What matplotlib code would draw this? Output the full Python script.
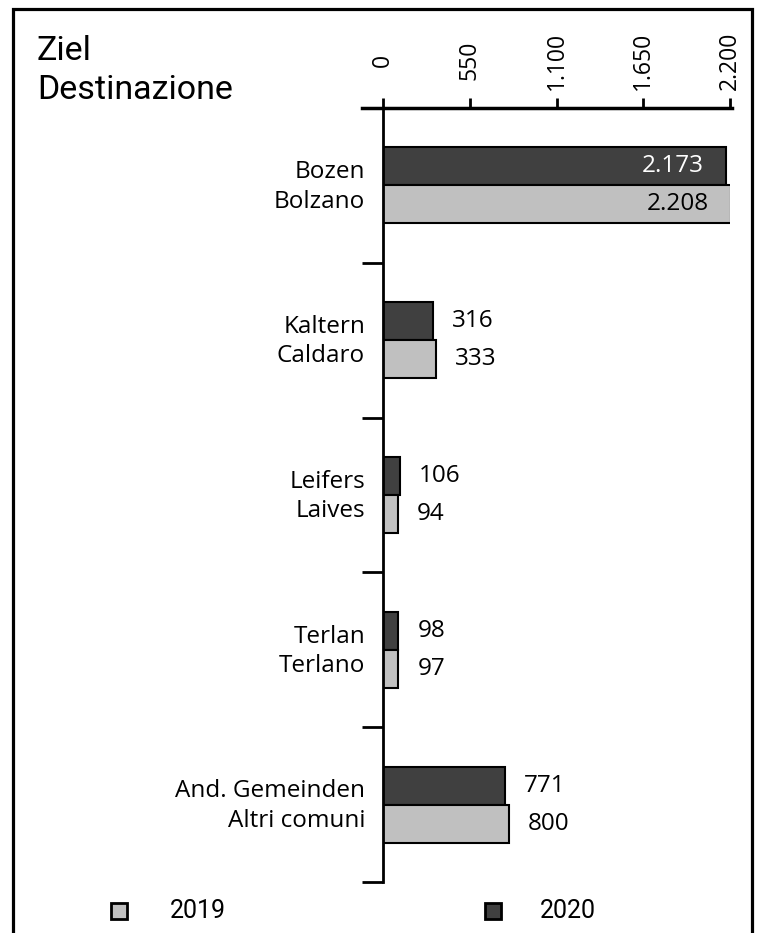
import numpy as np
import matplotlib
matplotlib.use("Agg")
import matplotlib.pyplot as plt
from matplotlib.patches import Rectangle

# data
destinations = ["Bozen\nBolzano", "Kaltern\nCaldaro", "Leifers\nLaives",
                "Terlan\nTerlano", "And. Gemeinden\nAltri comuni"]
values_2020 = [2173, 316, 106, 98, 771]
values_2019 = [2208, 333, 94, 97, 800]
years = ["2019", "2020"]
x_ticks = [0, 550, 1100, 1650, 2200]
x_tick_labels = ["0", "550", "1.100", "1.650", "2.200"]

DARK = "#404040"
LIGHT = "#c0c0c0"
W, H = 763, 933

plt.rcParams["font.family"] = ["Open Sans", "DejaVu Sans"]
narrow = ["Roboto", "DejaVu Sans"]

fig = plt.figure(figsize=(W / 100, H / 100), dpi=100)
ax = fig.add_axes([383 / W, 1 - 882 / H, 347 / W, (882 - 108) / H])

y = np.arange(len(destinations)) + 0.5
bh = 0.245
b20 = ax.barh(y - bh / 2, values_2020, height=bh, color=DARK, edgecolor="black", linewidth=1.5)
b19 = ax.barh(y + bh / 2, values_2019, height=bh, color=LIGHT, edgecolor="black", linewidth=1.5)

ax.set_xlim(0, 2200)
ax.set_ylim(len(destinations), 0)

def fmt(v):
    return f"{v:,}".replace(",", ".")

# value labels
px = 2200 / 347
for vals, off, inside_col in [(values_2020, -bh / 2, "white"), (values_2019, bh / 2, "black")]:
    for i, v in enumerate(vals):
        if v > 1500:
            ax.text(v - 22 * px, y[i] + off, fmt(v), ha="right", va="center",
                    fontsize=17.5, color=inside_col)
        else:
            ax.text(v + 19 * px, y[i] + off, fmt(v), ha="left", va="center",
                    fontsize=17.5, color="black")

# category labels
for i, name in enumerate(destinations):
    ax.text(-18 * px, y[i] + 0.01, name, ha="right", va="center", fontsize=17.5, linespacing=1.3)

# axes styling
for s in ["right", "bottom", "top"]:
    ax.spines[s].set_visible(False)
ax.spines["left"].set_linewidth(2)
ax.axhline(0, xmin=-0.06, xmax=1.005, color="black", lw=2.5, clip_on=False)

ax.xaxis.tick_top()
ax.set_xticks(x_ticks)
ax.set_xticklabels(x_tick_labels, rotation=90, fontsize=16.5, va="center", ha="center")
ax.tick_params(axis="x", direction="out", length=7, width=2, pad=27)
ax.set_yticks(np.arange(1, len(destinations) + 1))
ax.set_yticklabels([])
ax.tick_params(axis="y", direction="out", length=15, width=2)

# title
fig.text(37 / W, 1 - 35 / H, "Ziel\nDestinazione", ha="left", va="top", fontsize=24.5,
         family=narrow, linespacing=1.28)

# legend
for x_sq, x_txt, col, lab in [(111, 170, LIGHT, years[0]), (485, 540, DARK, years[1])]:
    fig.patches.append(Rectangle((x_sq / W, 1 - 919 / H), 16 / W, 16 / H, transform=fig.transFigure,
                                 facecolor=col, edgecolor="black", linewidth=2))
    fig.text(x_txt / W, 1 - 911 / H, lab, ha="left", va="center", fontsize=18, family=narrow)

# outer frame
fig.patches.append(Rectangle((13 / W, -0.05), (752 - 13) / W, 1.05 - 9 / H, transform=fig.transFigure,
                             fill=False, edgecolor="black", linewidth=2.3))

fig.savefig("out.png", dpi=100)
